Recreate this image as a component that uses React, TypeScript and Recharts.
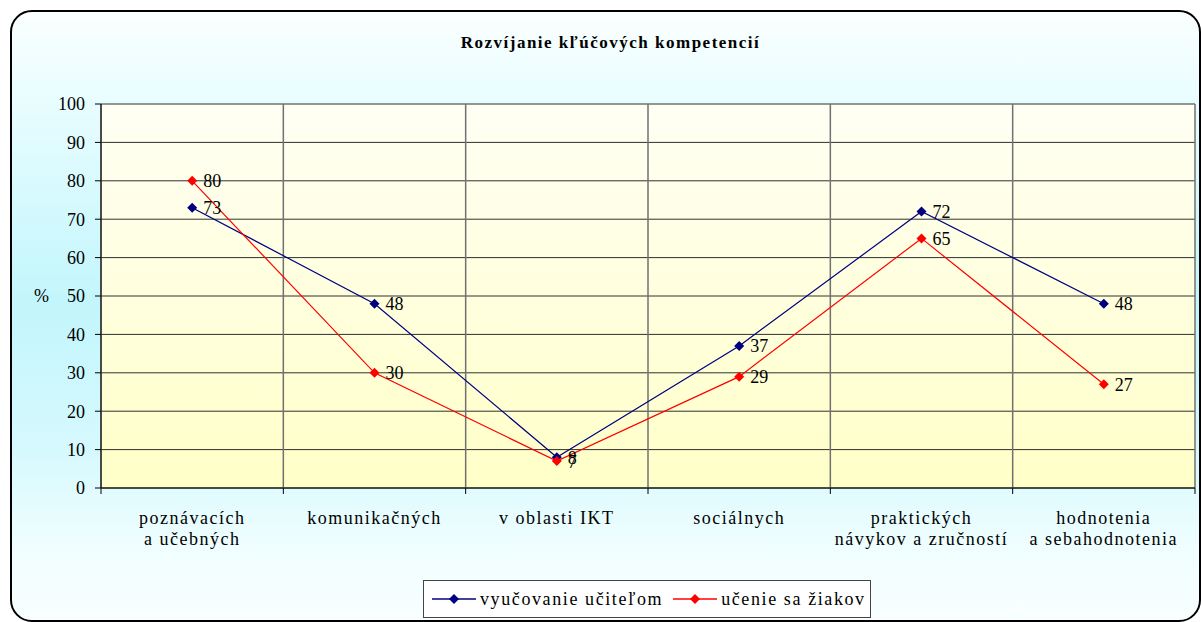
import React from 'react';
import { LineChart, Line, XAxis, YAxis, CartesianGrid, Legend, LabelList } from 'recharts';

const categories = [
  ['poznávacích', 'a učebných'],
  ['komunikačných'],
  ['v oblasti IKT'],
  ['sociálnych'],
  ['praktických', 'návykov a zručností'],
  ['hodnotenia', 'a sebahodnotenia'],
];
const teacherValues = [73, 48, 8, 37, 72, 48];
const pupilValues = [80, 30, 7, 29, 65, 27];
const yTicks = [0, 10, 20, 30, 40, 50, 60, 70, 80, 90, 100];
const seriesNames = ['vyučovanie učiteľom', 'učenie sa žiakov'];
const title = 'Rozvíjanie kľúčových  kompetencií';

const FONT = '"Liberation Serif", "Times New Roman", serif';
const BLUE = '#000080';
const RED = '#ff0000';

const data = categories.map((c, i) => ({
  pos: i + 0.5,
  teacher: teacherValues[i],
  pupil: pupilValues[i],
}));
const labelTicks = categories.map((_, i) => i + 0.5);
const boundaryTicks = categories.map((_, i) => i).concat(categories.length);

const Diamond = (props: any) => {
  const { cx, cy, fill } = props;
  if (cx == null || cy == null) return null;
  const r = 5;
  return (
    <polygon
      points={`${cx},${cy - r} ${cx + r},${cy} ${cx},${cy + r} ${cx - r},${cy}`}
      fill={fill}
    />
  );
};

const CategoryTick = (props: any) => {
  const { x, y, payload } = props;
  const lines = categories[Math.floor(payload.value)] || [];
  return (
    <text
      x={x}
      y={y}
      textAnchor="middle"
      fontFamily={FONT}
      fontSize={18}
      letterSpacing={1.5}
      fill="#000"
    >
      {lines.map((l, i) => (
        <tspan key={i} x={x} dy={i === 0 ? 30 : 21}>
          {l}
        </tspan>
      ))}
    </text>
  );
};

const LegendBox = () => (
  <div
    style={{
      boxSizing: 'border-box',
      width: 448,
      height: 38,
      border: '1.5px solid #444',
      background: '#fff',
      display: 'flex',
      alignItems: 'center',
      fontFamily: FONT,
      fontSize: 18,
      letterSpacing: 1.6,
      color: '#000',
    }}
  >
    {seriesNames.map((n, i) => (
      <div key={n} style={{ display: 'flex', alignItems: 'center', marginLeft: i === 0 ? 8 : 10 }}>
        <svg width={44} height={12}>
          <line x1={0} y1={6} x2={44} y2={6} stroke={i === 0 ? BLUE : RED} strokeWidth={1.3} />
          <polygon points="22,1 27,6 22,11 17,6" fill={i === 0 ? BLUE : RED} />
        </svg>
        <span style={{ marginLeft: 4 }}>{n}</span>
      </div>
    ))}
  </div>
);

export default function App() {
  return (
    <div style={{ position: 'absolute', left: 0, top: 0, width: 1201, height: 622, background: '#fff', overflow: 'hidden' }}>
      <div
        style={{
          position: 'absolute',
          left: 10,
          top: 10,
          width: 1191,
          height: 612,
          boxSizing: 'border-box',
          border: '2px solid #000',
          borderRadius: 22,
          background:
            'linear-gradient(to bottom, #fbffff 0%, #e9fdff 14%, #c2f6fc 48%, #d6f9fe 72%, #effeff 88%, #f9ffff 100%)',
        }}
      />
      <div
        style={{
          position: 'absolute',
          left: 0,
          top: 33,
          width: 1221,
          textAlign: 'center',
          fontFamily: FONT,
          fontWeight: 'bold',
          fontSize: 17,
          letterSpacing: 1.5,
        }}
      >
        {title}
      </div>
      <div style={{ position: 'absolute', left: 0, top: 0 }}>
        <LineChart width={1201} height={622} data={data} margin={{ top: 104, right: 6, bottom: 4, left: 30 }}>
          <defs>
            <linearGradient id="plotFill" x1="0" y1="0" x2="0" y2="1">
              <stop offset="0%" stopColor="#fffff4" />
              <stop offset="100%" stopColor="#ffffc8" />
            </linearGradient>
          </defs>
          <CartesianGrid
            xAxisId="bnd"
            fill="url(#plotFill)"
            fillOpacity={1}
            stroke="#303030"
            verticalFill={[]}
            vertical={false}
          />
          <CartesianGrid xAxisId="bnd" horizontal={false} stroke="#707070" strokeWidth={1.5} />
          <XAxis
            xAxisId="bnd"
            type="number"
            dataKey="pos"
            domain={[0, 6]}
            allowDataOverflow
            ticks={boundaryTicks}
            interval={0}
            height={6}
            tickSize={6}
            tick={() => <g />}
            stroke="#000"
          />
          <XAxis
            xAxisId="lab"
            type="number"
            dataKey="pos"
            domain={[0, 6]}
            allowDataOverflow
            ticks={labelTicks}
            interval={0}
            height={86}
            tickSize={0}
            tickMargin={0}
            axisLine={false}
            tickLine={false}
            tick={<CategoryTick />}
          />
          <YAxis
            type="number"
            domain={[0, 100]}
            ticks={yTicks}
            interval={0}
            width={71}
            tickSize={6}
            tickMargin={10}
            stroke="#000"
            tick={{ fontFamily: FONT, fontSize: 18, fill: '#000' }}
            label={{ value: '%', position: 'insideLeft', offset: 4, fontFamily: FONT, fontSize: 18, fill: '#000' }}
          />
          <Legend
            verticalAlign="bottom"
            content={<LegendBox />}
            wrapperStyle={{ left: 423, bottom: 4, width: 448, height: 38 }}
          />
          <Line
            xAxisId="lab"
            dataKey="teacher"
            name={seriesNames[0]}
            stroke={BLUE}
            strokeWidth={1.2}
            dot={<Diamond fill={BLUE} />}
            activeDot={false}
            isAnimationActive={false}
          >
            <LabelList dataKey="teacher" position="right" offset={11} fontFamily={FONT} fontSize={18} fill="#000" />
          </Line>
          <Line
            xAxisId="lab"
            dataKey="pupil"
            name={seriesNames[1]}
            stroke={RED}
            strokeWidth={1.2}
            dot={<Diamond fill={RED} />}
            activeDot={false}
            isAnimationActive={false}
          >
            <LabelList dataKey="pupil" position="right" offset={11} fontFamily={FONT} fontSize={18} fill="#000" />
          </Line>
        </LineChart>
      </div>
    </div>
  );
}
